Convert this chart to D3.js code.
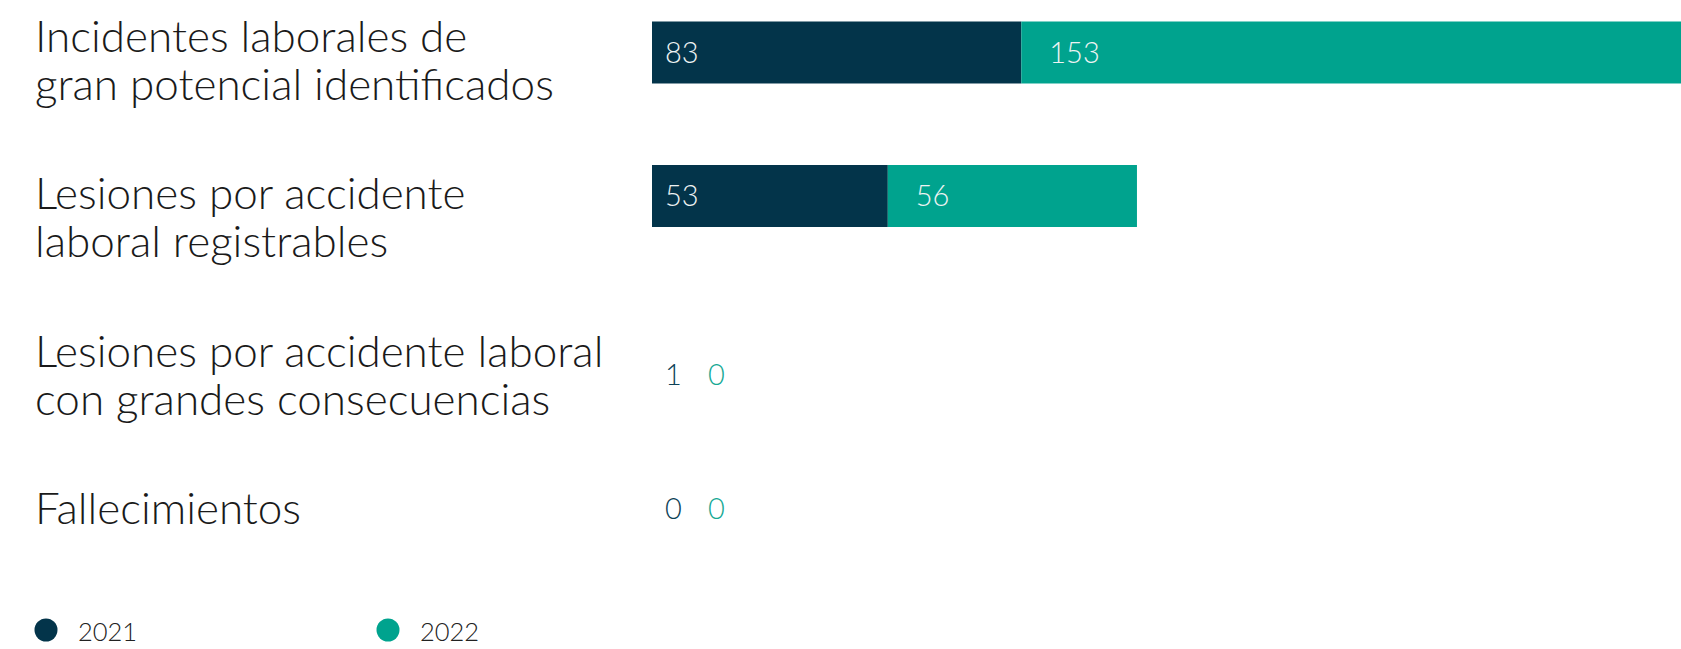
<!DOCTYPE html>
<html>
<head>
<meta charset="utf-8">
<script src="https://cdn.jsdelivr.net/npm/d3@7"></script>
<style>
  html, body { margin: 0; padding: 0; background: #fff; }
  svg { display: block; font-family: "Lato", "Roboto", sans-serif; }
</style>
</head>
<body>
<svg id="chart"></svg>
<script>
// data
const categories = [
    ["Incidentes laborales de", "gran potencial identificados"],
    ["Lesiones por accidente", "laboral registrables"],
    ["Lesiones por accidente laboral", "con grandes consecuencias"],
    ["Fallecimientos"]
];
const years = ["2021", "2022"];
const values2021 = [83, 53, 1, 0];
const values2022 = [153, 56, 0, 0];

const COLORS = { "2021": "#03344a", "2022": "#00a38e" };

const W = 1681, H = 649;
const margin = { left: 35, barLeft: 652 };
const lineH = 48, rowGap = 61.5, topPad = 12;
const barH = 62;
const labelSize = 44, valueSize = 29, legendSize = 25.5;

const svg = d3.select("#chart").attr("width", W).attr("height", H);

// row layout for the labels: every row is as tall as its label block
let acc = topPad;
const rows = categories.map((lines, i) => {
    const h = lines.length * lineH;
    const r = { i, lines, top: acc, center: acc + h / 2,
        v21: values2021[i], v22: values2022[i] };
    acc += h + rowGap;
    return r;
});

const x = d3.scaleLinear()
    .domain([0, d3.max(rows, d => d.v21 + d.v22)])
    .range([0, 1050]);

// bar rows are evenly spaced
const yBar = d3.scaleBand()
    .domain(d3.range(categories.length))
    .range([21.5, 514])
    .paddingInner(0.568)
    .paddingOuter(0);

// labels on the left
const lab = svg.append("g").attr("class", "labels");
rows.forEach(r => {
    r.lines.forEach((t, k) => {
        lab.append("text")
            .attr("x", margin.left)
            .attr("y", r.center + (k - (r.lines.length - 1) / 2) * lineH + 0.36 * labelSize)
            .attr("font-size", labelSize)
            .attr("font-weight", 300)
            .attr("fill", "#1a1a1a")
            .text(t);
    });
});

// bars (only rows big enough to hold the value inside)
const minInside = 5;
const bars = svg.append("g").attr("class", "bars");
rows.forEach(r => {
    const inside = r.v21 >= minInside;
    if (inside) {
        const yb = yBar(r.i);
        bars.append("rect")
            .attr("x", margin.barLeft)
            .attr("y", yb)
            .attr("width", x(r.v21))
            .attr("height", yBar.bandwidth())
            .attr("fill", COLORS["2021"]);
        bars.append("rect")
            .attr("x", margin.barLeft + x(r.v21))
            .attr("y", yb)
            .attr("width", x(r.v22))
            .attr("height", yBar.bandwidth())
            .attr("fill", COLORS["2022"]);

        const ty = yb + yBar.bandwidth() / 2 + 0.36 * valueSize;
        bars.append("text")
            .attr("x", margin.barLeft + 13)
            .attr("y", ty)
            .attr("font-size", valueSize)
            .attr("font-weight", 300)
            .attr("fill", "#eef3f3")
            .text(r.v21);
        bars.append("text")
            .attr("x", margin.barLeft + x(r.v21) + 28)
            .attr("y", ty)
            .attr("font-size", valueSize)
            .attr("font-weight", 300)
            .attr("fill", "#eef3f3")
            .text(r.v22);
    } else {
        const ty = r.center + 0.36 * valueSize;
        bars.append("text")
            .attr("x", margin.barLeft + 13)
            .attr("y", ty)
            .attr("font-size", valueSize)
            .attr("font-weight", 300)
            .attr("fill", "#0e4257")
            .text(r.v21);
        bars.append("text")
            .attr("x", margin.barLeft + 56)
            .attr("y", ty)
            .attr("font-size", valueSize)
            .attr("font-weight", 300)
            .attr("fill", "#17a995")
            .text(r.v22);
    }
});

// legend
const legend = svg.append("g").attr("class", "legend")
    .attr("transform", "translate(46, 630)");
years.forEach((yr, i) => {
    const item = legend.append("g").attr("transform", `translate(${i * 342}, 0)`);
    item.append("circle").attr("r", 11.5).attr("fill", COLORS[yr]);
    item.append("text")
        .attr("x", 32)
        .attr("y", 0.36 * legendSize + 2)
        .attr("font-size", legendSize)
        .attr("font-weight", 300)
        .attr("fill", "#222")
        .text(yr);
});
</script>
</body>
</html>
